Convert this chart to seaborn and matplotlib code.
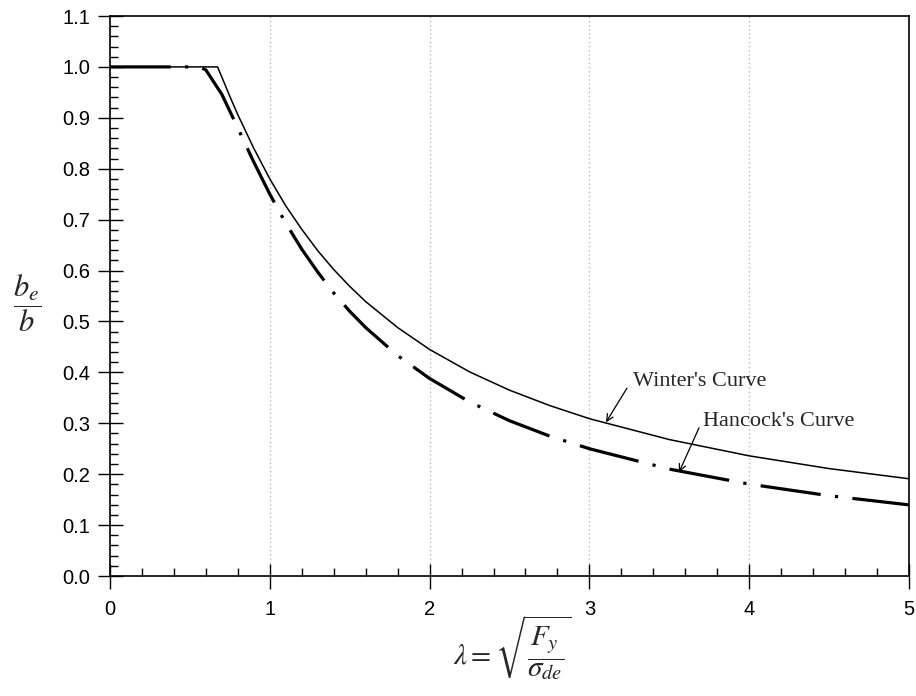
import numpy as np
import pandas as pd
import matplotlib
matplotlib.use("Agg")
import matplotlib.pyplot as plt
import seaborn as sns
from matplotlib.ticker import MultipleLocator

# Data
winter_lambda = [0.0, 0.673, 0.7, 0.75, 0.8, 0.9, 1.0, 1.1, 1.2, 1.3, 1.4, 1.5, 1.6, 1.8,
                 2.0, 2.25, 2.5, 2.75, 3.0, 3.5, 4.0, 4.5, 5.0]
winter_ratio = [1.0, 1.0, 0.980, 0.942, 0.906, 0.840, 0.780, 0.727, 0.681, 0.639, 0.602, 0.569,
                0.539, 0.488, 0.445, 0.401, 0.365, 0.335, 0.309, 0.268, 0.236, 0.211, 0.191]

hancock_lambda = [0.0, 0.561, 0.6, 0.7, 0.8, 0.9, 1.0, 1.1, 1.2, 1.3, 1.4, 1.5, 1.6, 1.8,
                  2.0, 2.25, 2.5, 2.75, 3.0, 3.5, 4.0, 4.5, 5.0]
hancock_ratio = [1.0, 1.0, 0.994, 0.946, 0.880, 0.813, 0.750, 0.693, 0.642, 0.597, 0.556, 0.520,
                 0.488, 0.433, 0.388, 0.342, 0.305, 0.275, 0.250, 0.210, 0.1805, 0.1577, 0.1397]

x_ticks = [0, 1, 2, 3, 4, 5]
y_ticks = [0.0, 0.1, 0.2, 0.3, 0.4, 0.5, 0.6, 0.7, 0.8, 0.9, 1.0, 1.1]

sns.set_theme(style="white")
plt.rcParams['font.family'] = ['Liberation Sans', 'DejaVu Sans']
plt.rcParams['mathtext.fontset'] = 'stix'

fig = plt.figure(figsize=(9.16, 6.96), dpi=100)
ax = fig.add_axes([110/916, 1 - 576/696, (909 - 110)/916, (576 - 16)/696])

winter_df = pd.DataFrame({"lam": winter_lambda, "ratio": winter_ratio})
hancock_df = pd.DataFrame({"lam": hancock_lambda, "ratio": hancock_ratio})

sns.lineplot(data=winter_df, x="lam", y="ratio", ax=ax, color="black", lw=1.1,
             sort=False, estimator=None)
sns.lineplot(data=hancock_df, x="lam", y="ratio", ax=ax, color="black", lw=2.3,
             sort=False, estimator=None)
hline = ax.lines[-1]
hline.set_dashes((19, 4.5, 1.0, 4.5))
hline.set_dash_capstyle('butt')

ax.set_xlim(0, 5)
ax.set_ylim(0, 1.1)
ax.set_xticks(x_ticks)
ax.set_yticks(y_ticks)
ax.set_xticklabels([str(v) for v in x_ticks])
ax.set_yticklabels([f"{v:.1f}" for v in y_ticks])
ax.xaxis.set_minor_locator(MultipleLocator(0.2))
ax.yaxis.set_minor_locator(MultipleLocator(0.02))

ax.tick_params(axis='both', which='major', direction='inout', length=18, width=1.0,
               color='black', labelsize=14.5, labelcolor='black')
ax.tick_params(axis='x', which='major', pad=8)
ax.tick_params(axis='y', which='major', pad=5)
ax.tick_params(axis='both', which='minor', direction='in', length=6, width=1.0, color='black')
ax.tick_params(bottom=True, left=True, top=False, right=False, which='both')

for s in ax.spines.values():
    s.set_color('black')
    s.set_linewidth(1.2)

for xv in [1, 2, 3, 4]:
    ax.axvline(xv, color='#bbbbbb', lw=1.0, ls=(0, (1, 2)), zorder=0)

ax.set_xlabel("")
ax.set_ylabel("")

arrow_kw = dict(arrowstyle='->', color='black', lw=0.9, shrinkA=0, shrinkB=0)
ax.annotate("", xy=(3.104, 0.302), xytext=(3.235, 0.369), arrowprops=arrow_kw)
ax.text(3.273, 0.383, "Winter's Curve", fontsize=16, family='Liberation Serif',
        ha='left', va='center')
ax.annotate("", xy=(3.561, 0.204), xytext=(3.686, 0.291), arrowprops=arrow_kw)
ax.text(3.711, 0.304, "Hancock's Curve", fontsize=16, family='Liberation Serif',
        ha='left', va='center')

fig.text(27/916, 1 - 303/696, r'$\dfrac{b_e}{b}$', fontsize=22, ha='center', va='center')
fig.text(512/916, 1 - 648/696, r'$\lambda = \sqrt{\dfrac{F_y}{\sigma_{de}}}$', fontsize=21,
         ha='center', va='center')

fig.savefig("out.png", dpi=100)
